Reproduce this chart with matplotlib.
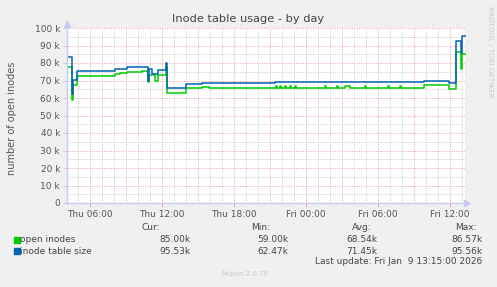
import matplotlib
matplotlib.use("Agg")
import matplotlib.pyplot as plt
import numpy as np

# ---- data (time in hours since Thu 00:00, values in thousands) ----
time_h = [4.083, 4.5, 4.583, 4.917, 6.75, 8.083, 8.5, 9.083, 9.75, 10.333,
          10.833, 10.917, 11.167, 11.417, 11.667, 12.333, 12.417, 14.0,
          15.333, 15.917, 21.417, 21.5, 21.583, 21.833, 21.917, 22.25, 22.333,
          22.667, 22.75, 23.083, 23.167, 25.583, 25.667, 26.583, 26.667,
          27.25, 27.667, 28.917, 29.0, 30.833, 30.917, 31.833, 31.917,
          33.833, 35.917, 36.5, 36.917, 37.0, 37.333]
inode_table = [83.3, 62.5, 70.5, 75.6, 75.6, 76.4, 76.4, 78.0, 77.6, 77.9,
               70.0, 76.5, 74.0, 74.0, 76.0, 80.0, 65.5, 68.0,
               68.3, 68.3, 69.0, 69.0, 69.0, 69.0, 69.0, 69.0, 69.0,
               69.0, 69.0, 69.0, 69.0, 69.0, 69.0, 69.0, 69.0,
               69.0, 69.0, 69.0, 69.0, 69.0, 69.0, 69.0, 69.0,
               69.7, 68.4, 92.8, 85.7, 95.5, 95.5]
open_inodes = [78.0, 59.0, 67.4, 72.6, 72.3, 74.0, 74.5, 75.0, 74.8, 75.2,
               69.0, 73.0, 73.0, 70.0, 73.0, 78.0, 63.0, 65.5,
               66.3, 66.0, 66.0, 66.6, 66.0, 66.6, 66.0, 66.6, 66.0,
               66.6, 66.0, 66.6, 66.0, 66.6, 66.0, 66.6, 66.0,
               66.6, 66.0, 66.6, 66.0, 66.6, 66.0, 66.6, 66.0,
               67.2, 65.3, 86.1, 76.4, 85.0, 85.0]

tick_hours = [6, 12, 18, 24, 30, 36]
tick_labels = ["Thu 06:00", "Thu 12:00", "Thu 18:00", "Fri 00:00", "Fri 06:00", "Fri 12:00"]
y_ticks = [0, 10, 20, 30, 40, 50, 60, 70, 80, 90, 100]
y_labels = ["0"] + [f"{v} k" for v in y_ticks[1:]]

series_names = ["open inodes", "inode table size"]
series_colors = ["#00CC00", "#0066B3"]
cur_vals = ["85.00k", "95.53k"]
min_vals = ["59.00k", "62.47k"]
avg_vals = ["68.54k", "71.45k"]
max_vals = ["86.57k", "95.56k"]

W, H = 497, 287
fig = plt.figure(figsize=(W / 100, H / 100), dpi=100)
fig.patch.set_facecolor("#F0F0F0")

L, R, T, B = 67, 466, 28, 203
ax = fig.add_axes([L / W, (H - B) / H, (R - L) / W, (B - T) / H])
ax.set_facecolor("white")
xmin, xmax = 4.083, 37.333
ax.set_xlim(xmin, xmax)
ax.set_ylim(0, 100)

# grid
minor_c = "#C8C8C8"
major_c = "#EE9C9C"
for h in np.arange(5, 38, 1):
    if h % 3 != 0:
        ax.axvline(h, color=minor_c, lw=0.7, ls=(0, (1, 1.5)), zorder=1)
for h in np.arange(6, 38, 3):
    ax.axvline(h, color=major_c, lw=0.7, ls=(0, (1, 1.5)), zorder=1)
for v in np.arange(5, 100, 10):
    ax.axhline(v, color=minor_c, lw=0.7, ls=(0, (1, 1.5)), zorder=1)
for v in np.arange(10, 101, 10):
    ax.axhline(v, color=major_c, lw=0.7, ls=(0, (1, 1.5)), zorder=1)

ax.plot(time_h, open_inodes, drawstyle="steps-post", color=series_colors[0], lw=1.1, zorder=3)
ax.plot(time_h, inode_table, drawstyle="steps-post", color=series_colors[1], lw=1.1, zorder=4)
ax.axvline(xmax - 0.02, color="#999999", lw=1.0, zorder=5)

for s in ax.spines.values():
    s.set_visible(False)
ax.plot([xmin, xmin], [0, 100], color="#C8C8F0", lw=1, clip_on=False, zorder=6)
ax.plot([xmin, xmax], [0, 0], color="#C8C8F0", lw=1, clip_on=False, zorder=6)
ax.plot([xmax + 0.1], [0], marker=">", color="#C8C8F0", ms=4, clip_on=False)
ax.plot([xmin], [102.5], marker="^", color="#C8C8F0", ms=4, clip_on=False)

ax.set_xticks(tick_hours)
ax.set_xticklabels(tick_labels)
ax.set_yticks(y_ticks)
ax.set_yticklabels(y_labels)
ax.tick_params(axis="x", length=3, color="#EE9C9C", labelsize=6.5, labelcolor="#555555", pad=2)
ax.tick_params(axis="y", length=3, color="#C8C8F0", labelsize=6.5, labelcolor="#555555", pad=2)

# texts
fig.text(248 / W, 1 - 19 / H, "Inode table usage - by day", ha="center", va="center",
         fontsize=8.2, color="#444444")
fig.text(12 / W, 1 - 118 / H, "number of open inodes", rotation=90, ha="center", va="center",
         fontsize=7, color="#555555")
fig.text(490 / W, 1 - 52 / H, "RRDTOOL / TOBI OETIKER", rotation=270, ha="center", va="center",
         fontsize=5.1, color="#C8C8C8")

fs = 6.5
tc = "#444444"
fig.text(160 / W, 1 - 227 / H, "Cur:", ha="right", va="center", fontsize=fs, color=tc)
fig.text(270 / W, 1 - 227 / H, "Min:", ha="right", va="center", fontsize=fs, color=tc)
fig.text(372 / W, 1 - 227 / H, "Avg:", ha="right", va="center", fontsize=fs, color=tc)
fig.text(477 / W, 1 - 227 / H, "Max:", ha="right", va="center", fontsize=fs, color=tc)
rows_y = [240, 251]
for i in range(2):
    y = 1 - rows_y[i] / H
    fig.patches.append(plt.Rectangle((14 / W, y - 2.5 / H), 5.5 / W, 5.5 / H,
                                     transform=fig.transFigure, color=series_colors[i]))
    fig.text(19.5 / W, y, series_names[i], ha="left", va="center", fontsize=fs, color=tc)
    fig.text(190 / W, y, cur_vals[i], ha="right", va="center", fontsize=fs, color=tc)
    fig.text(288 / W, y, min_vals[i], ha="right", va="center", fontsize=fs, color=tc)
    fig.text(377 / W, y, avg_vals[i], ha="right", va="center", fontsize=fs, color=tc)
    fig.text(482 / W, y, max_vals[i], ha="right", va="center", fontsize=fs, color=tc)
fig.text(482 / W, 1 - 262 / H, "Last update: Fri Jan  9 13:15:00 2026", ha="right", va="center",
         fontsize=fs, color=tc)
fig.text(245 / W, 1 - 274 / H, "Munin 2.0.76", ha="center", va="center", fontsize=5, color="#C8C8C8")

fig.savefig("out.png", dpi=100, facecolor=fig.get_facecolor())
